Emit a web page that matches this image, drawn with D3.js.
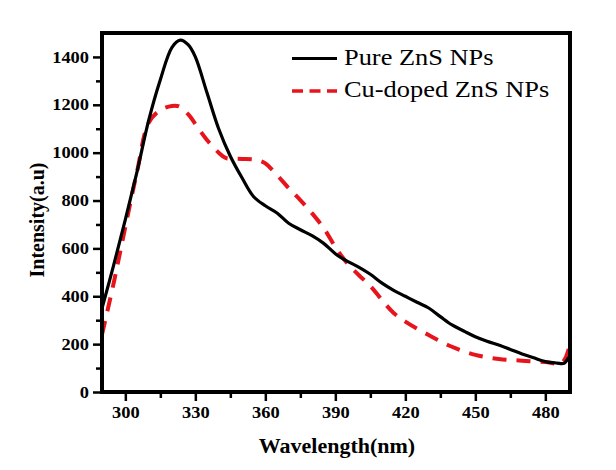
<!DOCTYPE html>
<html>
<head>
    <meta charset="utf-8">
    <title>Pure vs Cu-doped ZnS NPs</title>
    <script src="https://d3js.org/d3.v7.min.js"></script>
    <style>
        body { margin: 0; background: #fff; }
        svg { font-family: "Liberation Serif", "Times New Roman", serif; }
        .tick text { font-family: "Liberation Serif", "Times New Roman", serif; font-weight: bold; font-size: 16px; fill: #000; }
        .tick line { stroke: #000; stroke-width: 2.5; }
    </style>
</head>
<body>
<svg width="616" height="470"></svg>
<script>
    // wavelength (nm) / intensity (a.u)
    var pureWave = [290, 295, 300, 305, 310, 315, 320, 323.5, 327, 330, 335, 340, 345, 350, 355, 360, 365, 370, 375, 380,
                    385, 390, 395, 400, 405, 410, 415, 420, 425, 430, 435, 440, 445, 450, 455, 460, 465, 470, 475, 480,
                    485, 488, 490];
    var pureInt  = [350, 530, 720, 920, 1135, 1305, 1440, 1470, 1450, 1400, 1250, 1100, 985, 895, 816, 778, 748, 705, 678, 653,
                    621, 578, 547, 522, 492, 455, 425, 400, 375, 351, 315, 280, 255, 231, 212, 196, 178, 159, 143, 127,
                    121, 120, 145];

    var cuWave = [290, 295, 300, 305, 310, 315, 320, 323, 327, 330, 335, 340, 343, 345, 350, 355, 358, 360, 365, 370,
                  375, 380, 385, 390, 395, 400, 405, 410, 415, 420, 430, 440, 450, 460, 470, 480, 487, 490];
    var cuInt  = [240, 455, 690, 920, 1125, 1178, 1195, 1193, 1160, 1120, 1053, 1000, 978, 975, 974, 972, 965, 955, 907, 852,
                  802, 747, 685, 606, 539, 489, 443, 384, 330, 294, 238, 189, 155, 138, 131, 125, 121, 180];

    var xTicks = [300, 330, 360, 390, 420, 450, 480];
    var yTicks = [0, 200, 400, 600, 800, 1000, 1200, 1400];
    var seriesNames = ["Pure ZnS NPs", "Cu-doped ZnS NPs"];

    var svg = d3.select("svg");
    var plotLeft = 102, plotRight = 571, plotTop = 33, plotBottom = 392;

    var x = d3.scaleLinear().domain([290, 491]).range([plotLeft, plotRight]);
    var y = d3.scaleLinear().domain([0, 1500]).range([plotBottom, plotTop]);

    svg.append("clipPath").attr("id", "clip")
        .append("rect")
        .attr("x", plotLeft).attr("y", plotTop)
        .attr("width", plotRight - plotLeft - 1).attr("height", plotBottom - plotTop);

    // minor ticks
    var xMinor = d3.range(315, 491, 30);
    var yMinor = d3.range(100, 1500, 200);

    svg.append("g")
        .attr("transform", "translate(0," + (plotBottom + 2) + ")")
        .call(d3.axisBottom(x).tickValues(xMinor).tickSize(4).tickFormat(""))
        .call(function(g) { g.select(".domain").remove(); });

    svg.append("g")
        .attr("transform", "translate(" + (plotLeft - 2) + ",0)")
        .call(d3.axisLeft(y).tickValues(yMinor).tickSize(4).tickFormat(""))
        .call(function(g) { g.select(".domain").remove(); });

    // major ticks + labels
    svg.append("g")
        .attr("transform", "translate(0," + (plotBottom + 2) + ")")
        .call(d3.axisBottom(x).tickValues(xTicks).tickSize(7).tickPadding(6).tickFormat(d3.format("d")))
        .call(function(g) { g.select(".domain").remove(); })
        .selectAll("text").attr("transform", "scale(1.15,1)");

    svg.append("g")
        .attr("transform", "translate(" + (plotLeft - 2) + ",0)")
        .call(d3.axisLeft(y).tickValues(yTicks).tickSize(7).tickPadding(4).tickFormat(d3.format("d")))
        .call(function(g) { g.select(".domain").remove(); })
        .selectAll("text").attr("x", -11 / 1.15).attr("transform", "scale(1.15,1)");

    var line = d3.line()
        .x(function(d) { return x(d[0]); })
        .y(function(d) { return y(d[1]); })
        .curve(d3.curveCatmullRom.alpha(0.5));

    svg.append("path")
        .datum(d3.zip(cuWave, cuInt))
        .attr("clip-path", "url(#clip)")
        .attr("fill", "none")
        .attr("stroke", "#e8141b")
        .attr("stroke-width", 4)
        .attr("stroke-dasharray", "14,10")
        .attr("d", line);

    svg.append("path")
        .datum(d3.zip(pureWave, pureInt))
        .attr("clip-path", "url(#clip)")
        .attr("fill", "none")
        .attr("stroke", "#000")
        .attr("stroke-width", 3.2)
        .attr("d", line);

    // frame
    svg.append("rect")
        .attr("x", plotLeft).attr("y", plotTop)
        .attr("width", plotRight - plotLeft - 1).attr("height", plotBottom - plotTop)
        .attr("fill", "none")
        .attr("stroke", "#000")
        .attr("stroke-width", 4);

    // legend
    var leg = svg.append("g");
    leg.append("line")
        .attr("x1", 292).attr("x2", 337).attr("y1", 58.5).attr("y2", 58.5)
        .attr("stroke", "#000").attr("stroke-width", 3);
    leg.append("line")
        .attr("x1", 292).attr("x2", 337).attr("y1", 91).attr("y2", 91)
        .attr("stroke", "#e8141b").attr("stroke-width", 3.5)
        .attr("stroke-dasharray", "11,6.5");
    leg.append("text")
        .attr("transform", "translate(344,65) scale(1.1,1)")
        .style("font-size", "24px")
        .text(seriesNames[0]);
    leg.append("text")
        .attr("transform", "translate(344,97) scale(1.1,1)")
        .style("font-size", "24px")
        .text(seriesNames[1]);

    // axis titles
    svg.append("text")
        .attr("x", 337).attr("y", 453)
        .attr("text-anchor", "middle")
        .style("font-size", "20px").style("font-weight", "bold")
        .attr("transform", "translate(337,0) scale(1.1,1) translate(-337,0)")
        .text("Wavelength(nm)");

    svg.append("text")
        .attr("transform", "translate(44,220) rotate(-90)")
        .attr("text-anchor", "middle")
        .style("font-size", "20px").style("font-weight", "bold")
        .text("Intensity(a.u)");
</script>
</body>
</html>
